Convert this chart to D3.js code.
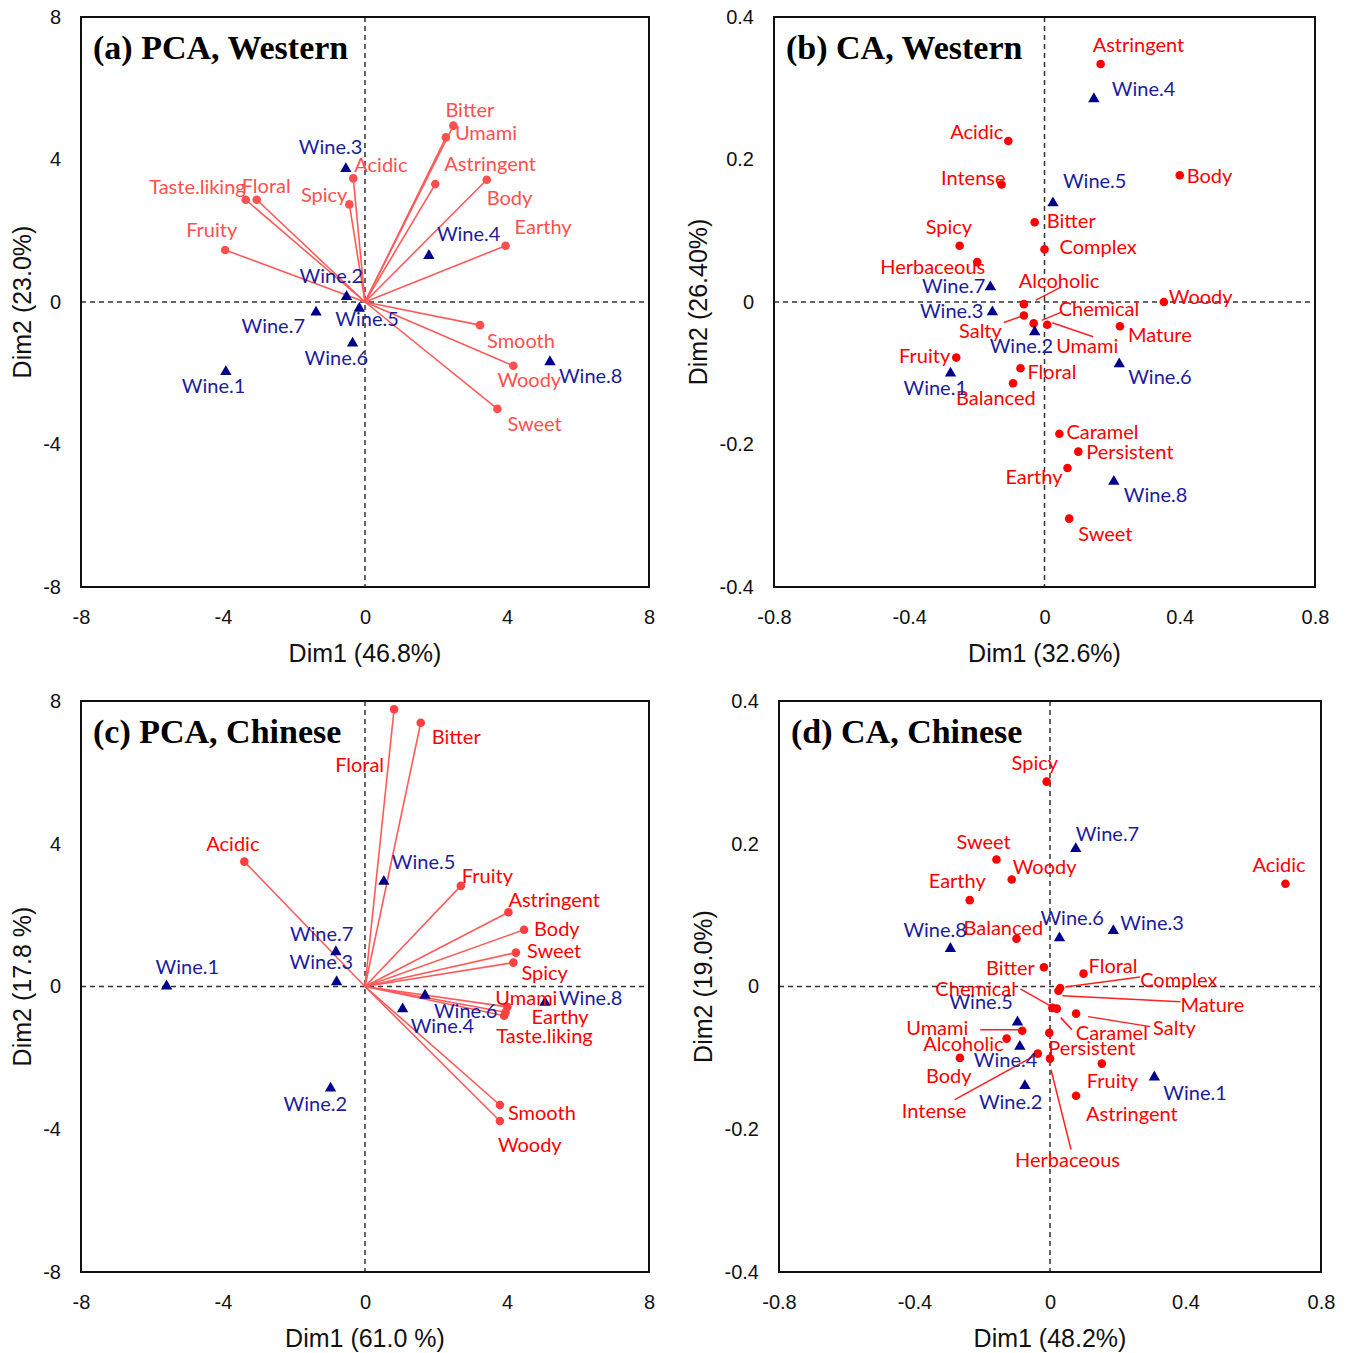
<!DOCTYPE html>
<html><head><meta charset="utf-8">
<script src="https://cdn.jsdelivr.net/npm/d3@7"></script>
<style>body{margin:0;background:#fff}</style>
</head><body>
<svg id="chart" width="1348" height="1353"></svg>
<script>
// ---------- DATA ----------
const wineNames = ["Wine.1","Wine.2","Wine.3","Wine.4","Wine.5","Wine.6","Wine.7","Wine.8"];

// (a) PCA, Western
const aAttr = ["Bitter","Umami","Astringent","Body","Earthy","Smooth","Woody","Sweet","Acidic","Spicy","Floral","Taste.liking","Fruity"];
const aAttrDim1 = [2.49,2.28,1.98,3.43,3.96,3.24,4.18,3.73,-0.33,-0.44,-3.05,-3.36,-3.94];
const aAttrDim2 = [4.95,4.62,3.31,3.43,1.58,-0.65,-1.79,-3.00,3.47,2.74,2.87,2.87,1.46];
const aWineDim1 = [-3.92,-0.52,-0.54,1.80,-0.16,-0.35,-1.38,5.21];
const aWineDim2 = [-1.96,0.15,3.74,1.30,-0.18,-1.16,-0.29,-1.68];

// (b) CA, Western
const bAttr = ["Astringent","Acidic","Intense","Body","Bitter","Complex","Spicy","Herbaceous","Alcoholic","Woody","Chemical","Salty","Umami","Mature","Fruity","Floral","Balanced","Caramel","Persistent","Earthy","Sweet"];
const bAttrDim1 = [0.166,-0.107,-0.127,0.400,-0.029,0.000,-0.251,-0.199,-0.061,0.353,-0.032,-0.061,0.008,0.223,-0.261,-0.071,-0.093,0.044,0.100,0.068,0.073];
const bAttrDim2 = [0.334,0.226,0.165,0.178,0.112,0.074,0.079,0.056,-0.003,0.000,-0.030,-0.019,-0.032,-0.034,-0.078,-0.093,-0.114,-0.185,-0.210,-0.233,-0.304];
const bWineDim1 = [-0.278,-0.029,-0.154,0.146,0.025,0.221,-0.160,0.205];
const bWineDim2 = [-0.100,-0.042,-0.014,0.285,0.139,-0.087,0.021,-0.252];

// (c) PCA, Chinese
const cAttr = ["Floral","Bitter","Acidic","Fruity","Astringent","Body","Sweet","Spicy","Umami","Earthy","Taste.liking","Smooth","Woody"];
const cAttrDim1 = [0.82,1.57,-3.40,2.70,4.04,4.48,4.25,4.18,4.01,3.96,3.92,3.80,3.80];
const cAttrDim2 = [7.77,7.39,3.50,2.82,2.08,1.59,0.95,0.67,-0.57,-0.72,-0.82,-3.32,-3.77];
const cWineDim1 = [-5.59,-0.97,-0.80,1.06,0.53,1.69,-0.82,5.07];
const cWineDim2 = [0.01,-2.85,0.13,-0.63,2.94,-0.25,0.97,-0.45];

// (d) CA, Chinese
const dAttr = ["Spicy","Sweet","Woody","Earthy","Acidic","Balanced","Bitter","Floral","Complex","Mature","Chemical","Caramel","Salty","Umami","Persistent","Alcoholic","Body","Intense","Herbaceous","Fruity","Astringent"];
const dAttrDim1 = [-0.010,-0.158,-0.113,-0.237,0.695,-0.099,-0.018,0.099,0.030,0.025,0.007,0.020,0.077,-0.082,-0.002,-0.128,-0.266,-0.036,0.000,0.153,0.077];
const dAttrDim2 = [0.287,0.178,0.150,0.121,0.144,0.067,0.027,0.018,-0.002,-0.006,-0.030,-0.031,-0.038,-0.062,-0.065,-0.073,-0.100,-0.094,-0.101,-0.108,-0.153];
const dWineDim1 = [0.308,-0.074,0.187,-0.089,-0.096,0.028,0.076,-0.294];
const dWineDim2 = [-0.127,-0.139,0.078,-0.084,-0.050,0.068,0.193,0.053];

const pcaTicks = [-8,-4,0,4,8];
const caXTicks = [-0.8,-0.4,0,0.4,0.8];
const caYTicks = [-0.4,-0.2,0,0.2,0.4];

// ---------- LAYOUT (label offsets in px: [dx, dy(center), anchor, leader]) ----------
const layoutA = {
  "Bitter":[-8,-17],"Umami":[9,-5],"Astringent":[9,-21],"Body":[0,17],"Earthy":[9,-20],
  "Smooth":[7,15],"Woody":[-16,13],"Sweet":[10,14],"Acidic":[1,-14],"Spicy":[-2,-10,"end"],
  "Floral":[-15,-15],"Taste.liking":[0,-14,"end"],"Fruity":[-39,-21],
  "Wine.1":[-44,13],"Wine.2":[-47,-22],"Wine.3":[-47,-23],"Wine.4":[8,-23],"Wine.5":[-24,10],
  "Wine.6":[-48,14],"Wine.7":[-11,13,"end"],"Wine.8":[9,13]
};
const layoutB = {
  "Astringent":[-8,-20],"Acidic":[-5,-10,"end"],"Intense":[4,-7,"end"],"Body":[7,0],
  "Bitter":[12,-2],"Complex":[15,-3],"Spicy":[-34,-20],"Herbaceous":[8,4,"end"],
  "Alcoholic":[-5,-24,"start",[12,-4,37,-17]],"Woody":[5,-6],
  "Chemical":[25,-15,"start",[8,-3,27,-11]],"Salty":[-22,14,"end",[-20,7,-3,1]],
  "Umami":[9,20,"start",[5,-2,46,12]],"Mature":[8,8],"Fruity":[-6,-3,"end"],
  "Floral":[7,3],"Balanced":[-57,14],"Caramel":[7,-3],"Persistent":[8,-1],
  "Earthy":[-5,8,"end"],"Sweet":[9,14],
  "Wine.1":[-47,14],"Wine.2":[-45,13],"Wine.3":[-9,-2,"end"],"Wine.4":[18,-11],
  "Wine.5":[10,-23],"Wine.6":[9,12],"Wine.7":[-5,-2,"end"],"Wine.8":[10,12]
};
const layoutC = {
  "Floral":[-10,55,"end"],"Bitter":[11,13],"Acidic":[-38,-19],"Fruity":[1,-11],
  "Astringent":[0,-13],"Body":[10,-2],"Sweet":[11,-3],"Spicy":[8,9],"Umami":[-12,-10],
  "Earthy":[26,4],"Taste.liking":[-8,19],"Smooth":[8,7],"Woody":[-2,23],
  "Wine.1":[-11,-20],"Wine.2":[-47,15],"Wine.3":[-47,-21],"Wine.4":[8,16],
  "Wine.5":[8,-21],"Wine.6":[9,15],"Wine.7":[-46,-19],"Wine.8":[14,-6]
};
const layoutD = {
  "Spicy":[-35,-20],"Sweet":[-40,-18],"Woody":[1,-13],"Earthy":[-41,-20],"Acidic":[-33,-20],
  "Balanced":[-53,-12],"Bitter":[-9,0,"end"],"Floral":[5,-9],
  "Complex":[80,-9,"start",[5,-1,80,-11]],"Mature":[122,13,"start",[4,5,122,11]],
  "Chemical":[-117,-20,"start",[-32,-19,-2,-2]],"Caramel":[19,23,"start",[4,9,15,21]],
  "Salty":[77,13,"start",[12,3,74,13]],"Umami":[-116,-4,"start",[-42,-1,-4,-1]],
  "Persistent":[-1,14],"Alcoholic":[-3,4,"end"],"Body":[-34,17],
  "Intense":[-136,56,"start",[-83,46,-3,2]],"Herbaceous":[-35,100,"start",[1,11,21,91]],
  "Fruity":[-15,16],"Astringent":[10,17],
  "Wine.1":[9,15],"Wine.2":[-46,15],"Wine.3":[7,-9],"Wine.4":[-46,13],
  "Wine.5":[-68,-21],"Wine.6":[-19,-21],"Wine.7":[0,-16],"Wine.8":[-47,-20]
};

// ---------- DRAW ----------
const svg = d3.select("#chart");
const labelFont = "Lato, 'Open Sans', sans-serif";
const tickFont = "'Liberation Sans', Arial, sans-serif";
const wineMarker = "#00008b", wineText = "#1c1c9c";

const panels = [
  {title:"(a) PCA, Western", l:81,r:649,t:17,b:587, xd:[-8,8], yd:[-8,8], xt:pcaTicks, yt:pcaTicks,
   xlab:"Dim1 (46.8%)", ylab:"Dim2 (23.0%)", ylx:22, arrows:true,
   attr:aAttr, ax:aAttrDim1, ay:aAttrDim2, wx:aWineDim1, wy:aWineDim2, lay:layoutA,
   txtC:"#ff4f4f", ptC:"#ff4f4f", lnC:"#ff5a5a"},
  {title:"(b) CA, Western", l:774,r:1315,t:17,b:587, xd:[-0.8,0.8], yd:[-0.4,0.4], xt:caXTicks, yt:caYTicks,
   xlab:"Dim1 (32.6%)", ylab:"Dim2 (26.40%)", ylx:698, arrows:false,
   attr:bAttr, ax:bAttrDim1, ay:bAttrDim2, wx:bWineDim1, wy:bWineDim2, lay:layoutB,
   txtC:"#ff0000", ptC:"#ff0000", lnC:"#ff2020"},
  {title:"(c) PCA, Chinese", l:81,r:649,t:701,b:1272, xd:[-8,8], yd:[-8,8], xt:pcaTicks, yt:pcaTicks,
   xlab:"Dim1 (61.0 %)", ylab:"Dim2 (17.8 %)", ylx:22, arrows:true,
   attr:cAttr, ax:cAttrDim1, ay:cAttrDim2, wx:cWineDim1, wy:cWineDim2, lay:layoutC,
   txtC:"#ff0000", ptC:"#ff4040", lnC:"#ff5a5a"},
  {title:"(d) CA, Chinese", l:779,r:1321,t:701,b:1272, xd:[-0.8,0.8], yd:[-0.4,0.4], xt:caXTicks, yt:caYTicks,
   xlab:"Dim1 (48.2%)", ylab:"Dim2 (19.0%)", ylx:703, arrows:false,
   attr:dAttr, ax:dAttrDim1, ay:dAttrDim2, wx:dWineDim1, wy:dWineDim2, lay:layoutD,
   txtC:"#ff0000", ptC:"#ff0000", lnC:"#ff2020"}
];

const fmt = d => d === 0 ? "0" : String(d);
const tri = d3.symbol().type(d3.symbolTriangle).size(56);

panels.forEach(p => {
  const x = d3.scaleLinear().domain(p.xd).range([p.l, p.r]);
  const y = d3.scaleLinear().domain(p.yd).range([p.b, p.t]);
  const g = svg.append("g");

  // dashed zero lines
  g.append("line").attr("x1",x(0)).attr("x2",x(0)).attr("y1",p.t).attr("y2",p.b)
    .attr("stroke","#333").attr("stroke-width",1.5).attr("stroke-dasharray","5,4");
  g.append("line").attr("x1",p.l).attr("x2",p.r).attr("y1",y(0)).attr("y2",y(0))
    .attr("stroke","#333").attr("stroke-width",1.5).attr("stroke-dasharray","5,4");

  // axes
  const xa = g.append("g").attr("transform",`translate(0,${p.b})`)
    .call(d3.axisBottom(x).tickValues(p.xt).tickFormat(fmt).tickSize(0).tickPadding(23));
  const ya = g.append("g").attr("transform",`translate(${p.l},0)`)
    .call(d3.axisLeft(y).tickValues(p.yt).tickFormat(fmt).tickSize(0).tickPadding(20));
  [xa, ya].forEach(a => {
    a.select(".domain").remove();
    a.selectAll("text").attr("font-family",tickFont).attr("font-size",20).attr("fill","#111");
  });

  // frame
  g.append("rect").attr("x",p.l).attr("y",p.t).attr("width",p.r-p.l).attr("height",p.b-p.t)
    .attr("fill","none").attr("stroke","#111").attr("stroke-width",2);

  // axis titles
  g.append("text").attr("x",(p.l+p.r)/2).attr("y",p.b+66).attr("text-anchor","middle")
    .attr("dominant-baseline","central").attr("font-family",tickFont).attr("font-size",25)
    .attr("fill","#111").text(p.xlab);
  g.append("text").attr("transform",`translate(${p.ylx},${(p.t+p.b)/2}) rotate(-90)`)
    .attr("text-anchor","middle").attr("dominant-baseline","central")
    .attr("font-family",tickFont).attr("font-size",25).attr("fill","#111").text(p.ylab);

  // panel title
  g.append("text").attr("x",p.l+12).attr("y",p.t+42)
    .attr("font-family","'Liberation Serif','Times New Roman',serif").attr("font-weight","bold")
    .attr("font-size",34).attr("fill","#000").text(p.title);

  const attrData = p.attr.map((n,i) => ({name:n, px:x(p.ax[i]), py:y(p.ay[i])}));
  const wineData = wineNames.map((n,i) => ({name:n, px:x(p.wx[i]), py:y(p.wy[i])}));

  // arrows (biplot vectors)
  if (p.arrows) {
    g.selectAll(null).data(attrData).join("line")
      .attr("x1",x(0)).attr("y1",y(0)).attr("x2",d=>d.px).attr("y2",d=>d.py)
      .attr("stroke",p.lnC).attr("stroke-width",1.6);
  }
  // leader lines
  attrData.forEach(d => {
    const lay = p.lay[d.name];
    if (lay && lay[3]) {
      const L = lay[3];
      g.append("line").attr("x1",d.px+L[0]).attr("y1",d.py+L[1]).attr("x2",d.px+L[2]).attr("y2",d.py+L[3])
        .attr("stroke",p.lnC).attr("stroke-width",1.5);
    }
  });

  // attribute points
  g.selectAll(null).data(attrData).join("circle")
    .attr("cx",d=>d.px).attr("cy",d=>d.py).attr("r",4.3).attr("fill",p.ptC);
  // wine triangles
  g.selectAll(null).data(wineData).join("path")
    .attr("d",tri).attr("transform",d=>`translate(${d.px},${d.py})`).attr("fill",wineMarker);

  // labels
  const addLabel = (d, color) => {
    const lay = p.lay[d.name] || [6,-10];
    g.append("text").attr("x",d.px+lay[0]).attr("y",d.py+lay[1])
      .attr("text-anchor",lay[2]||"start").attr("dominant-baseline","central")
      .attr("font-family",labelFont).attr("font-size",20).attr("fill",color).text(d.name);
  };
  attrData.forEach(d => addLabel(d, p.txtC));
  wineData.forEach(d => addLabel(d, wineText));
});
</script>
</body></html>
